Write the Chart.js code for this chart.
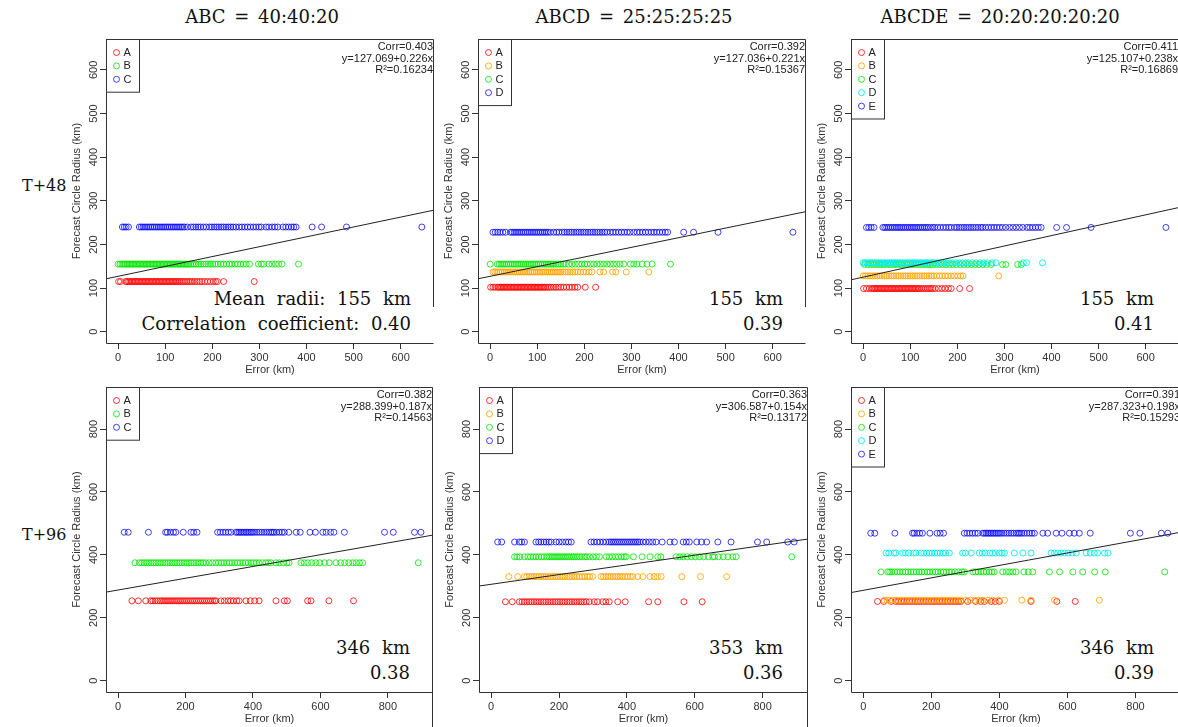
<!DOCTYPE html>
<html lang="en">
<head>
<meta charset="UTF-8">
<title>Forecast Circle Radius vs Error</title>
<script src="https://cdn.jsdelivr.net/npm/chart.js"></script>
<style>
  body { margin: 0; width: 1178px; height: 727px; overflow: hidden; background: #fff; position: relative;
         font-family: "DejaVu Serif", serif; color: #111; }
  canvas { position: absolute; }
  .title { position: absolute; top: 6px; font-size: 18px; line-height: 22px; white-space: nowrap;
           transform: translateX(-50%); word-spacing: 3px; }
  .row { position: absolute; left: 22px; font-size: 16px; line-height: 20px; }
  .note { position: absolute; font-size: 18px; line-height: 25px; text-align: right; white-space: nowrap;
          word-spacing: 6px; transform: translateX(-100%); }
</style>
</head>
<body>
<div class="title" style="left:262px">ABC = 40:40:20</div>
<div class="title" style="left:634px">ABCD = 25:25:25:25</div>
<div class="title" style="left:1000px">ABCDE = 20:20:20:20:20</div>
<div class="row" style="top:176px">T+48</div>
<div class="row" style="top:525px">T+96</div>
<div class="note" style="left:411px;top:286px">Mean radii: 155 km<br>Correlation coefficient: 0.40</div>
<div class="note" style="left:783px;top:286px">155 km<br>0.39</div>
<div class="note" style="left:1154px;top:286px">155 km<br>0.41</div>
<div class="note" style="left:410px;top:635px">346 km<br>0.38</div>
<div class="note" style="left:783px;top:635px">353 km<br>0.36</div>
<div class="note" style="left:1154px;top:635px">346 km<br>0.39</div>

<script>
// axis ranges and tick labels
const range48 = [-25.8, 670.8];
const range96 = [-35.9, 933.8];
const ticks48 = [0, 100, 200, 300, 400, 500, 600];
const ticks96 = [0, 200, 400, 600, 800];

// group names, colours and circle radii (km) of each group
const groups3 = ['A', 'B', 'C'];
const groups4 = ['A', 'B', 'C', 'D'];
const groups5 = ['A', 'B', 'C', 'D', 'E'];
const colors3 = ['rgba(255,0,0,0.8)', 'rgba(0,230,0,0.8)', 'rgba(0,0,255,0.75)'];
const colors4 = ['rgba(255,0,0,0.8)', 'rgba(255,165,0,0.85)', 'rgba(0,230,0,0.8)', 'rgba(0,0,255,0.75)'];
const colors5 = ['rgba(255,0,0,0.8)', 'rgba(255,165,0,0.85)', 'rgba(0,230,0,0.8)', 'rgba(0,235,235,0.85)', 'rgba(0,0,255,0.75)'];
const radii48_3 = [115, 155, 240];
const radii48_4 = [102, 137, 155, 228];
const radii48_5 = [99, 128, 154, 158, 239];
const radii96_3 = [254, 375, 472];
const radii96_4 = [251, 331, 394, 441];
const radii96_5 = [252, 256, 346, 406, 469];

// regression fits
const fitIntercept = [127.069, 127.036, 125.107, 288.399, 306.587, 287.323];
const fitSlope = [0.226, 0.221, 0.238, 0.187, 0.154, 0.198];
const corrText = ['Corr=0.403', 'Corr=0.392', 'Corr=0.411', 'Corr=0.382', 'Corr=0.363', 'Corr=0.391'];
const eqText = ['y=127.069+0.226x', 'y=127.036+0.221x', 'y=125.107+0.238x',
                'y=288.399+0.187x', 'y=306.587+0.154x', 'y=287.323+0.198x'];
const r2Text = ['R²=0.16234', 'R²=0.15367', 'R²=0.16869', 'R²=0.14563', 'R²=0.13172', 'R²=0.15293'];

// errors (km) per group, T+48
const t48_3_A = [1, 5, 16, 19, 22, 25, 28, 31, 34, 37, 40, 43, 46, 49, 52, 55, 58, 61, 64, 67, 70, 73, 76, 79, 82, 85, 88, 91, 94, 97, 100, 103, 106, 109, 112, 115, 118, 121, 124, 127, 130, 134, 138, 142, 146, 150, 154, 158, 163, 168, 173, 178, 184, 190, 196, 202, 207, 211, 224, 289];
const t48_3_B = [0, 4, 8, 12, 15, 18, 21, 24, 27, 30, 33, 36, 39, 42, 45, 48, 51, 54, 57, 60, 63, 66, 69, 72, 75, 78, 81, 84, 87, 90, 93, 96, 99, 102, 105, 108, 111, 114, 117, 120, 123, 126, 129, 132, 135, 138, 141, 144, 147, 150, 154, 158, 162, 166, 171, 176, 181, 186, 191, 196, 201, 206, 212, 218, 224, 230, 236, 242, 248, 254, 260, 266, 272, 279, 298, 304, 309, 320, 327, 334, 341, 348, 383];
const t48_3_C = [9, 13, 17, 22, 45, 49, 53, 57, 61, 65, 69, 73, 77, 81, 85, 89, 93, 97, 101, 105, 109, 113, 117, 121, 125, 129, 133, 137, 141, 147, 155, 160, 165, 170, 175, 181, 187, 194, 199, 204, 209, 214, 219, 224, 229, 234, 239, 244, 250, 257, 263, 269, 275, 281, 287, 293, 299, 304, 314, 320, 327, 333, 339, 350, 356, 362, 368, 373, 378, 412, 432, 485, 645];

const t48_4_A = [1, 6, 11, 16, 19, 22, 25, 28, 31, 34, 37, 40, 43, 46, 49, 52, 55, 58, 61, 64, 67, 70, 73, 76, 79, 82, 85, 88, 91, 94, 97, 100, 103, 106, 109, 112, 115, 118, 122, 126, 130, 135, 140, 145, 150, 156, 162, 168, 174, 180, 186, 202, 224];
const t48_4_B = [6, 10, 14, 18, 22, 26, 30, 34, 38, 42, 46, 50, 54, 58, 62, 66, 70, 74, 78, 82, 86, 90, 94, 98, 102, 106, 110, 114, 118, 122, 126, 130, 134, 138, 142, 146, 150, 155, 160, 165, 170, 175, 180, 186, 192, 198, 204, 210, 216, 233, 241, 260, 267, 289, 337];
const t48_4_C = [0, 15, 19, 23, 27, 31, 35, 39, 43, 47, 51, 55, 59, 63, 67, 71, 75, 79, 83, 87, 91, 95, 99, 103, 107, 111, 115, 119, 123, 127, 131, 135, 140, 145, 150, 155, 160, 167, 174, 181, 188, 195, 201, 206, 213, 220, 227, 234, 241, 248, 255, 262, 269, 276, 284, 298, 305, 312, 323, 333, 344, 383];
const t48_4_D = [6, 11, 16, 21, 27, 33, 43, 47, 51, 55, 59, 63, 67, 71, 75, 79, 83, 87, 91, 95, 99, 103, 107, 111, 115, 119, 123, 128, 135, 141, 146, 153, 158, 163, 168, 173, 178, 183, 188, 193, 198, 203, 208, 213, 218, 223, 228, 233, 238, 243, 248, 255, 261, 267, 273, 279, 285, 291, 297, 305, 312, 318, 324, 330, 336, 342, 348, 354, 360, 366, 372, 377, 411, 432, 484, 643];

const t48_5_A = [1, 7, 13, 18, 21, 24, 27, 30, 33, 36, 39, 42, 45, 48, 51, 54, 57, 60, 63, 66, 69, 72, 75, 78, 81, 84, 87, 90, 93, 96, 99, 102, 105, 108, 111, 114, 117, 120, 124, 128, 132, 136, 140, 144, 148, 153, 160, 167, 174, 181, 187, 205, 226];
const t48_5_B = [0, 5, 10, 15, 20, 25, 30, 35, 40, 45, 50, 55, 60, 65, 70, 75, 80, 85, 90, 95, 100, 105, 110, 115, 120, 125, 130, 135, 140, 145, 150, 156, 162, 168, 174, 180, 187, 194, 201, 207, 212, 288];
const t48_5_C = [3, 10, 16, 22, 28, 34, 40, 46, 52, 58, 64, 70, 76, 82, 88, 94, 100, 106, 112, 118, 124, 130, 136, 142, 148, 155, 162, 169, 176, 183, 190, 198, 206, 214, 222, 230, 238, 246, 254, 262, 272, 296, 303, 328, 336];
const t48_5_D = [0, 4, 8, 12, 16, 20, 24, 28, 32, 36, 40, 44, 48, 52, 56, 60, 64, 68, 72, 76, 80, 84, 88, 92, 96, 100, 104, 108, 112, 116, 120, 124, 128, 132, 136, 140, 145, 150, 155, 160, 166, 172, 178, 184, 190, 197, 204, 211, 218, 224, 232, 240, 248, 256, 264, 274, 282, 340, 347, 381];
const t48_5_E = [7, 12, 17, 23, 42, 46, 50, 54, 58, 62, 66, 70, 74, 78, 82, 86, 90, 94, 98, 102, 106, 110, 114, 118, 122, 126, 130, 134, 138, 143, 148, 152, 158, 164, 170, 176, 182, 187, 194, 199, 204, 209, 214, 219, 224, 229, 234, 239, 244, 250, 254, 260, 266, 272, 278, 284, 290, 296, 303, 311, 318, 325, 332, 339, 348, 354, 360, 366, 372, 378, 411, 432, 484, 643];

// errors (km) per group, T+96
const t96_3_A = [41, 60, 82, 97, 103, 110, 117, 124, 130, 136, 142, 148, 154, 160, 166, 172, 178, 184, 190, 196, 202, 208, 214, 220, 226, 232, 238, 244, 250, 256, 262, 268, 274, 280, 286, 290, 305, 315, 326, 334, 342, 352, 359, 379, 392, 405, 418, 468, 493, 502, 562, 572, 625, 698];
const t96_3_B = [50, 63, 70, 77, 84, 91, 98, 105, 112, 119, 126, 133, 140, 147, 154, 161, 168, 175, 182, 189, 196, 203, 210, 217, 224, 231, 238, 245, 252, 260, 270, 280, 290, 298, 306, 314, 322, 330, 338, 346, 354, 362, 370, 378, 386, 394, 402, 410, 418, 428, 438, 446, 453, 468, 478, 490, 500, 507, 542, 552, 562, 574, 586, 598, 612, 626, 646, 660, 672, 684, 696, 706, 716, 725, 890];
const t96_3_C = [18, 30, 90, 141, 146, 155, 164, 171, 193, 216, 224, 234, 295, 303, 311, 319, 327, 335, 349, 354, 359, 364, 369, 374, 379, 384, 389, 394, 399, 405, 412, 419, 426, 433, 440, 447, 453, 458, 463, 470, 478, 486, 493, 506, 528, 540, 569, 585, 607, 617, 630, 640, 671, 790, 816, 879, 898];

const t96_4_A = [42, 62, 83, 91, 98, 105, 112, 119, 126, 133, 140, 147, 154, 161, 168, 175, 182, 189, 196, 203, 210, 217, 224, 231, 238, 245, 252, 259, 266, 273, 280, 289, 304, 313, 329, 338, 348, 373, 395, 464, 491, 568, 622];
const t96_4_B = [52, 78, 98, 105, 112, 119, 126, 133, 140, 147, 154, 161, 168, 175, 182, 189, 196, 203, 210, 217, 224, 231, 238, 245, 252, 260, 268, 276, 284, 290, 299, 324, 331, 338, 345, 352, 359, 366, 373, 380, 387, 394, 402, 410, 417, 432, 447, 468, 480, 490, 501, 562, 617, 694];
const t96_4_C = [69, 76, 84, 98, 108, 116, 124, 132, 140, 148, 156, 164, 170, 176, 182, 188, 194, 200, 206, 212, 218, 224, 230, 236, 242, 248, 254, 260, 268, 276, 281, 290, 300, 310, 319, 339, 348, 357, 366, 375, 384, 392, 398, 419, 445, 468, 491, 500, 545, 556, 566, 578, 590, 602, 614, 626, 640, 653, 658, 670, 684, 698, 712, 722, 886];
const t96_4_D = [19, 31, 69, 83, 90, 98, 132, 140, 147, 155, 162, 170, 177, 191, 200, 210, 220, 228, 236, 294, 303, 312, 321, 330, 339, 348, 354, 360, 366, 372, 378, 384, 390, 396, 402, 408, 414, 420, 426, 432, 438, 447, 456, 466, 476, 486, 504, 527, 540, 566, 575, 584, 606, 620, 635, 668, 707, 785, 812, 874, 893];

const t96_5_A = [42, 60, 82, 96, 104, 112, 120, 128, 136, 144, 152, 160, 168, 176, 184, 192, 200, 208, 216, 224, 232, 240, 248, 256, 264, 272, 280, 287, 307, 330, 345, 356, 376, 388, 400, 493, 569, 623];
const t96_5_B = [62, 70, 78, 86, 94, 102, 110, 118, 126, 134, 142, 150, 158, 166, 174, 182, 190, 198, 206, 214, 222, 230, 238, 246, 254, 262, 270, 278, 287, 302, 315, 328, 340, 352, 366, 380, 398, 415, 466, 493, 562, 694];
const t96_5_C = [52, 72, 78, 84, 92, 100, 108, 116, 124, 132, 140, 148, 156, 164, 172, 180, 188, 196, 204, 212, 220, 228, 236, 244, 252, 260, 270, 280, 290, 297, 322, 330, 338, 346, 354, 362, 370, 378, 385, 410, 420, 430, 440, 449, 472, 485, 498, 547, 577, 616, 645, 680, 711, 886];
const t96_5_D = [67, 75, 90, 96, 116, 124, 134, 148, 155, 170, 178, 186, 194, 202, 210, 218, 226, 234, 242, 253, 292, 300, 317, 341, 350, 358, 372, 380, 388, 400, 408, 415, 444, 469, 493, 552, 562, 572, 582, 592, 602, 614, 626, 655, 667, 679, 689, 709, 719];
const t96_5_E = [22, 34, 93, 145, 150, 158, 166, 174, 196, 217, 226, 236, 297, 305, 313, 321, 329, 337, 351, 356, 361, 366, 371, 376, 381, 386, 391, 396, 401, 407, 414, 421, 428, 435, 442, 449, 455, 460, 466, 473, 481, 489, 496, 503, 528, 542, 567, 584, 606, 620, 635, 667, 785, 813, 876, 895];

// where each plot region sits on the page: left, top, right, bottom
const panels = [
  { area: [106, 39, 434, 343], groups: groups3, colors: colors3, radii: radii48_3, xs: [t48_3_A, t48_3_B, t48_3_C], range: range48, ticks: ticks48, cut: 277 },
  { area: [478, 39, 806, 343], groups: groups4, colors: colors4, radii: radii48_4, xs: [t48_4_A, t48_4_B, t48_4_C, t48_4_D], range: range48, ticks: ticks48, cut: 277 },
  { area: [851, 39, 1179, 343], groups: groups5, colors: colors5, radii: radii48_5, xs: [t48_5_A, t48_5_B, t48_5_C, t48_5_D, t48_5_E], range: range48, ticks: ticks48, cut: 343 },
  { area: [106, 387, 433, 692], groups: groups3, colors: colors3, radii: radii96_3, xs: [t96_3_A, t96_3_B, t96_3_C], range: range96, ticks: ticks96, cut: 692 },
  { area: [479, 387, 808, 692], groups: groups4, colors: colors4, radii: radii96_4, xs: [t96_4_A, t96_4_B, t96_4_C, t96_4_D], range: range96, ticks: ticks96, cut: 692 },
  { area: [851, 387, 1181, 692], groups: groups5, colors: colors5, radii: radii96_5, xs: [t96_5_A, t96_5_B, t96_5_C, t96_5_D, t96_5_E], range: range96, ticks: ticks96, cut: 692 }
];

const sans = 'Liberation Sans';
const ink = '#333';

// box, legend and fit text, R style
const panelDecor = {
  id: 'panelDecor',
  afterDraw(chart, args, opts) {
    const { ctx, chartArea: a } = chart;
    const l = Math.round(a.left) + 0.5, t = Math.round(a.top) + 0.5;
    const r = Math.round(a.right) - 0.5, b = Math.round(a.bottom) + 0.5;
    ctx.save();
    ctx.strokeStyle = ink;
    ctx.lineWidth = 1;
    ctx.beginPath();
    ctx.moveTo(r, opts.cut);
    ctx.lineTo(r, t);
    ctx.lineTo(l, t);
    ctx.lineTo(l, b);
    ctx.lineTo(r, b);
    ctx.stroke();

    // legend
    const n = opts.groups.length;
    ctx.fillStyle = '#fff';
    ctx.fillRect(l, t, 33, 12.5 + 13.4 * n);
    ctx.strokeRect(l, t, 33, 12.5 + 13.4 * n);
    ctx.font = '11px "' + sans + '"';
    ctx.textBaseline = 'middle';
    ctx.textAlign = 'left';
    opts.groups.forEach((g, i) => {
      const cy = t + 13 + 13.4 * i;
      ctx.strokeStyle = opts.colors[i];
      ctx.beginPath();
      ctx.arc(l + 10, cy, 3, 0, Math.PI * 2);
      ctx.stroke();
      ctx.fillStyle = '#222';
      ctx.fillText(g, l + 17, cy + 0.5);
    });

    // fit statistics
    ctx.fillStyle = '#222';
    ctx.textAlign = 'right';
    ctx.textBaseline = 'alphabetic';
    opts.stats.forEach((s, i) => ctx.fillText(s, a.right - 1, a.top + 11 + 11.5 * i));
    ctx.restore();
  }
};

panels.forEach((p, k) => {
  const [L, T, R, B] = p.area;
  const w = R - L + 60, h = B - T + 45;
  const cv = document.createElement('canvas');
  cv.width = w; cv.height = h;
  cv.style.left = (L - 56) + 'px';
  cv.style.top = (T - 9) + 'px';
  cv.style.width = w + 'px';
  cv.style.height = h + 'px';
  document.body.appendChild(cv);

  const [lo, hi] = p.range;
  const datasets = p.groups.map((g, i) => ({
    label: g,
    data: p.xs[i].map(x => ({ x: x, y: p.radii[i] })),
    borderColor: p.colors[i],
    backgroundColor: 'rgba(0,0,0,0)',
    pointStyle: 'circle',
    pointRadius: 3,
    pointHoverRadius: 3,
    pointBorderWidth: 1,
    showLine: false,
    order: p.groups.length - i
  }));
  const a = fitIntercept[k], s = fitSlope[k];
  datasets.push({
    label: 'fit',
    data: [{ x: lo, y: a + s * lo }, { x: hi, y: a + s * hi }],
    showLine: true,
    borderColor: '#222',
    borderWidth: 1,
    pointRadius: 0,
    order: 0
  });

  const tickFont = { family: sans, size: 11 };
  new Chart(cv, {
    type: 'scatter',
    data: { datasets },
    options: {
      responsive: false,
      animation: false,
      events: [],
      layout: { padding: { top: 9, right: 4, left: 0, bottom: 0 } },
      plugins: {
        legend: { display: false },
        tooltip: { enabled: false },
        panelDecor: { groups: p.groups, colors: p.colors, cut: p.cut,
                      stats: [corrText[k], eqText[k], r2Text[k]] }
      },
      scales: {
        x: {
          type: 'linear', min: lo, max: hi,
          afterBuildTicks: sc => { sc.ticks = p.ticks.map(v => ({ value: v })); },
          afterFit: sc => { sc.height = 36; },
          grid: { display: true, drawOnChartArea: false, drawTicks: true, tickLength: 6, color: ink },
          border: { display: false },
          ticks: { color: ink, font: tickFont, padding: 2, autoSkip: false, minRotation: 0, maxRotation: 0 },
          title: { display: true, text: 'Error (km)', color: ink, font: tickFont, padding: { top: 0, bottom: 2 } }
        },
        y: {
          type: 'linear', min: lo, max: hi,
          afterBuildTicks: sc => { sc.ticks = p.ticks.map(v => ({ value: v })); },
          afterFit: sc => { sc.width = 56; },
          grid: { display: true, drawOnChartArea: false, drawTicks: true, tickLength: 6, color: ink },
          border: { display: false },
          ticks: { color: ink, font: tickFont, padding: -3, autoSkip: false, minRotation: 90, maxRotation: 90, crossAlign: 'center' },
          title: { display: true, text: 'Forecast Circle Radius (km)', color: ink, font: tickFont, padding: { top: 20, bottom: 0 } }
        }
      }
    },
    plugins: [panelDecor]
  });
});
</script>
</body>
</html>
